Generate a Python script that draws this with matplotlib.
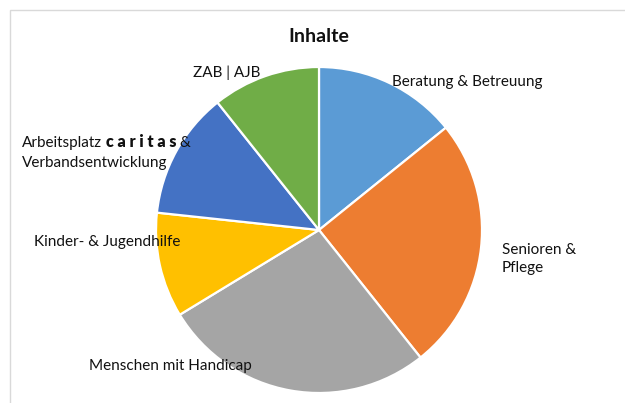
import matplotlib.pyplot as plt
from matplotlib.patches import Rectangle
from matplotlib.offsetbox import TextArea, HPacker, VPacker, AnnotationBbox

plt.rcParams['font.family'] = ['Lato', 'DejaVu Sans']

# Share per field, clockwise from 12 o'clock
categories = ["Beratung & Betreuung", "Senioren &\nPflege", "Menschen mit Handicap",
              "Kinder- & Jugendhilfe", "Arbeitsplatz caritas & Verbandsentwicklung", "ZAB | AJB"]
shares = [14.2, 25.1, 27.0, 10.4, 12.6, 10.7]
colors = ["#5B9BD5", "#ED7D31", "#A5A5A5", "#FFC000", "#4472C4", "#70AD47"]

W, H = 625, 403
fig = plt.figure(figsize=(W / 100, H / 100), dpi=100)

# light chart frame, open to the right and bottom
fig.patches.append(Rectangle((10 / W, -0.1), 1.2, 1 - 10 / H + 0.1, transform=fig.transFigure,
                             fill=False, edgecolor="#d9d9d9", linewidth=1.0))

cx, cy, r = 319, 230, 163
ax = fig.add_axes([(cx - r) / W, (H - cy - r) / H, 2 * r / W, 2 * r / H])
ax.pie(shares, colors=colors, startangle=90, counterclock=False, radius=1,
       wedgeprops=dict(edgecolor="white", linewidth=1.6))
ax.set_xlim(-1, 1)
ax.set_ylim(-1, 1)
ax.set_aspect("equal")
ax.axis("off")

fig.text(319 / W, 1 - 36 / H, "Inhalte", ha="center", va="center",
         fontsize=14, fontweight="bold", color="#111111")


def px(x, y):
    return x / W, 1 - y / H


lab = dict(fontsize=11, color="#111111")
fig.text(*px(392, 82), categories[0], ha="left", va="center", **lab)
fig.text(*px(502, 259), categories[1], ha="left", va="center", linespacing=1.4, **lab)
fig.text(*px(252, 366), categories[2], ha="right", va="center", **lab)
fig.text(*px(180, 242), categories[3], ha="right", va="center", **lab)
fig.text(*px(260, 73), categories[5], ha="right", va="center", **lab)

# two-line label with the spaced bold brand name
bold = dict(lab, fontsize=11.5, fontweight="heavy")
row1 = HPacker(children=[TextArea("Arbeitsplatz", textprops=lab),
                         TextArea("c a r i t a s", textprops=bold),
                         TextArea("&", textprops=lab)], sep=2.5, pad=0, align="baseline")
row2 = TextArea("Verbandsentwicklung", textprops=lab)
box = VPacker(children=[row1, row2], sep=5, pad=0, align="left")
fig.add_artist(AnnotationBbox(box, px(22, 152), xycoords="figure fraction",
                              box_alignment=(0, 0.5), frameon=False))

fig.savefig("out.png", dpi=100)
